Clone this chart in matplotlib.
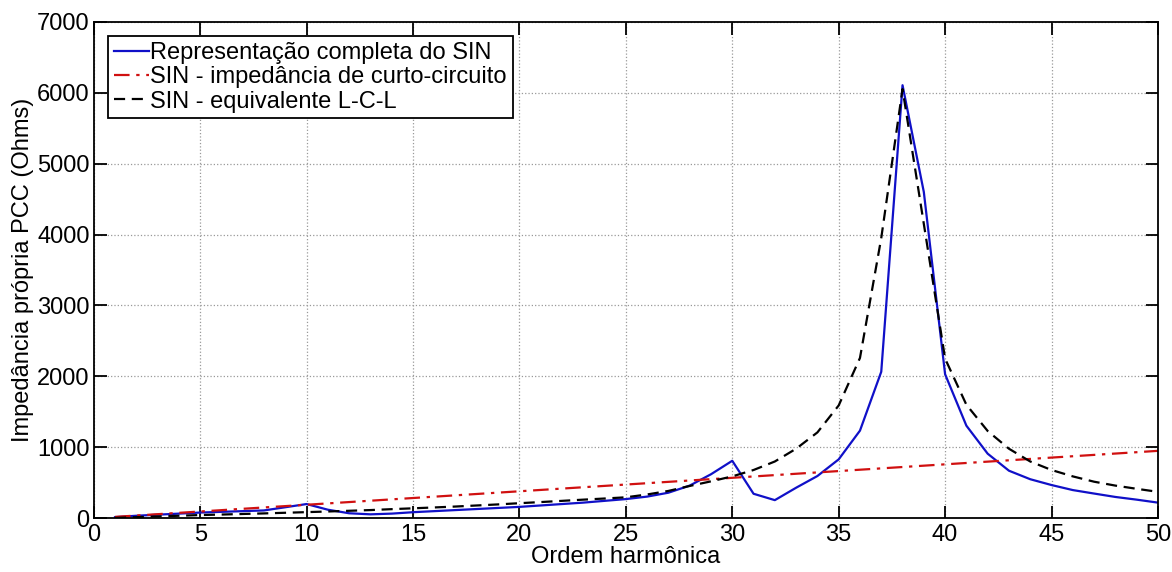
import numpy as np
import matplotlib.pyplot as plt

plt.rcParams['font.family'] = ['Liberation Sans', 'DejaVu Sans']

# harmonic order
ordem = list(range(1, 51))

# full SIN representation
sin_completo = [15, 35, 50, 65, 80, 90, 100, 110, 155, 200,
                120, 70, 55, 65, 85, 100, 115, 130, 145, 160,
                180, 200, 220, 245, 270, 305, 360, 460, 620, 810,
                345, 255, 430, 595, 830, 1235, 2065, 6105, 4600, 2030,
                1305, 910, 670, 550, 468, 397, 348, 300, 262, 220]

# short-circuit impedance
sin_curto = [19, 38, 57, 76, 95, 114, 133, 152, 171, 190,
             209, 228, 247, 266, 285, 304, 323, 342, 361, 380,
             399, 418, 437, 456, 475, 494, 513, 532, 551, 570,
             589, 608, 627, 646, 665, 684, 703, 722, 741, 760,
             779, 798, 817, 836, 855, 874, 893, 912, 931, 950]

# L-C-L equivalent
sin_lcl = [5, 15, 25, 35, 45, 52, 60, 68, 77, 86,
           95, 105, 115, 128, 140, 152, 165, 180, 195, 212,
           228, 245, 262, 278, 295, 335, 385, 455, 520, 590,
           680, 800, 980, 1210, 1590, 2260, 3950, 6050, 4150, 2250,
           1600, 1230, 980, 800, 680, 590, 515, 460, 415, 372]

fig = plt.figure(figsize=(11.72, 5.72), dpi=100)
ax = fig.add_axes([0.080, 0.094, 0.908, 0.868])

ax.plot(ordem, sin_completo, color='#1010c8', lw=1.6, label='Representação completa do SIN')
ax.plot(ordem, sin_curto, color='#d01010', lw=1.6, ls='-.', dashes=(7, 3, 1.5, 3),
        label='SIN - impedância de curto-circuito')
ax.plot(ordem, sin_lcl, color='black', lw=1.6, ls='--', dashes=(5, 3),
        label='SIN - equivalente L-C-L')

ax.set_xlim(0, 50)
ax.set_ylim(0, 7000)
ax.set_xticks(range(0, 51, 5))
ax.set_yticks(range(0, 7001, 1000))
ax.tick_params(direction='in', top=True, right=True, length=9, width=1.3,
               labelsize=17)
ax.tick_params(axis='x', pad=4)
ax.tick_params(axis='y', pad=3)
ax.grid(True, ls=':', color='#999999', lw=0.9)
for s in ax.spines.values():
    s.set_linewidth(1.3)

ax.set_xlabel('Ordem harmônica', fontsize=17, labelpad=0)
ax.set_ylabel('Impedância própria PCC (Ohms)', fontsize=17, labelpad=2)

leg = ax.legend(loc='upper left', fontsize=17, handlelength=1.5, handletextpad=0.05,
                borderpad=0.25, labelspacing=0.1, fancybox=False,
                edgecolor='black', framealpha=1, borderaxespad=0.6)
leg.get_frame().set_linewidth(1.3)

fig.savefig('out.png', dpi=100)
